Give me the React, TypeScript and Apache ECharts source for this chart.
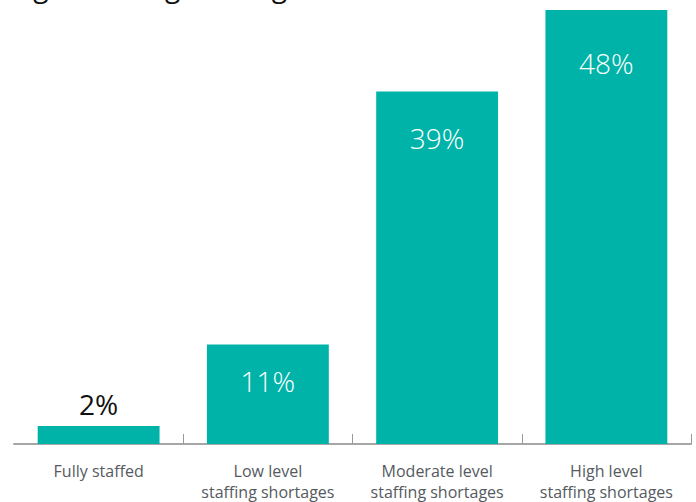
import React, { useEffect, useRef } from "react";
import * as echarts from "echarts";

const titleText = "Share of hospitals with tight staffing shortages";
const categories = [
  "Fully staffed",
  "Low level\nstaffing shortages",
  "Moderate level\nstaffing shortages",
  "High level\nstaffing shortages",
];
const values = [2, 11, 39, 48];
const labelTexts = ["2%", "11%", "39%", "48%"];

export default function App() {
  const ref = useRef<HTMLDivElement>(null);
  useEffect(() => {
    if (!ref.current) return;
    const chart = echarts.init(ref.current, null, { renderer: "svg" });
    const teal = "#00b3a8";
    const font = "'Open Sans', 'Noto Sans', sans-serif";
    const labelCfg = [
      { position: "top", color: "#111111", distance: 8, weight: 400 },
      { position: "insideTop", color: "#ffffff", distance: 22, weight: 300 },
      { position: "insideTop", color: "#ffffff", distance: 33, weight: 300 },
      { position: "insideTop", color: "#ffffff", distance: 39, weight: 300 },
    ];
    chart.setOption({
      animation: false,
      backgroundColor: "#ffffff",
      graphic: [
        {
          type: "text",
          x: 316,
          y: 0,
          style: {
            text: titleText,
            font: `400 28px ${font}`,
            fill: "#111111",
            align: "right",
            verticalAlign: "bottom",
          },
        },
      ],
      grid: { left: 14, right: 5, top: 10, bottom: 51, containLabel: false },
      xAxis: {
        type: "category",
        data: categories,
        axisLine: { show: true, lineStyle: { color: "#a6a6a6", width: 2 } },
        axisTick: {
          show: true,
          inside: true,
          length: 10,
          lineStyle: { color: "#999999", width: 1 },
          interval: (i: number) => i !== 0,
        },
        axisLabel: {
          color: "#555a60",
          fontSize: 16,
          fontFamily: font,
          lineHeight: 21,
          margin: 16,
          interval: 0,
        },
      },
      yAxis: {
        type: "value",
        min: 0,
        max: 48,
        show: false,
        splitLine: { show: false },
      },
      series: [
        {
          type: "bar",
          barWidth: "72%",
          data: values.map((v, i) => ({
            value: v,
            label: {
              show: true,
              position: labelCfg[i].position,
              distance: labelCfg[i].distance,
              color: labelCfg[i].color,
              fontSize: 28,
              fontWeight: labelCfg[i].weight,
              fontFamily: font,
              formatter: () => labelTexts[i],
            },
          })),
          itemStyle: { color: teal },
        },
      ],
    });
    return () => chart.dispose();
  }, []);
  return (
    <div
      ref={ref}
      style={{ position: "fixed", left: 0, top: 0, width: 696, height: 502, overflow: "hidden" }}
    />
  );
}
